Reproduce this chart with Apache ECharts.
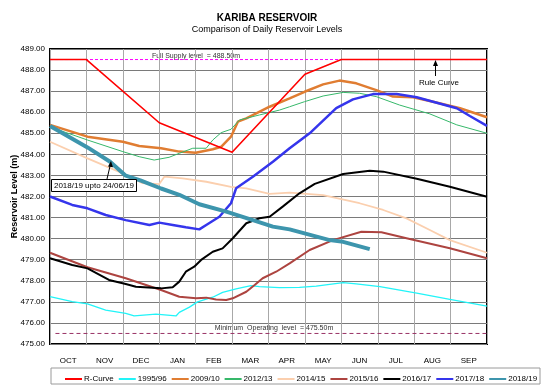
<!DOCTYPE html>
<html><head><meta charset="utf-8">
<script src="https://cdn.jsdelivr.net/npm/echarts@6/dist/echarts.min.js"></script>
<style>html,body{margin:0;padding:0;background:#fff}#c{width:550px;height:388px}</style>
</head><body><div id="c"></div>
<script>
// x values are in months from 1 October (0 = 1 Oct, 12 = 30 Sep)
const months = ['OCT','NOV','DEC','JAN','FEB','MAR','APR','MAY','JUN','JUL','AUG','SEP'];
const yTicks = [475,476,477,478,479,480,481,482,483,484,485,486,487,488,489];
const fullSupply = 488.5;
const minOperating = 475.5;

const rCurve = [[0,488.5],[1,488.5],[3,485.5],[5,484.1],[7,487.8],[8,488.5],[12,488.5]];
const y1995 = [[0,477.25],[0.61,477.01],[1.03,476.9],[1.53,476.61],[2.08,476.45],[2.31,476.33],[2.91,476.42],[3.46,476.33],[3.55,476.5],[3.83,476.75],[4.05,477.0],[4.47,477.22],[4.74,477.45],[5.11,477.62],[5.52,477.77],[5.75,477.72],[6.3,477.68],[6.85,477.69],[7.31,477.75],[8.05,477.91],[8.41,477.85],[9.06,477.72],[10.07,477.41],[10.98,477.12],[12,476.8]];
const y2009 = [[0,485.4],[1.03,484.84],[2.0,484.6],[2.45,484.4],[3.05,484.29],[3.55,484.13],[4.0,484.08],[4.47,484.24],[4.7,484.36],[4.97,484.84],[5.16,485.55],[5.39,485.71],[6.03,486.26],[6.58,486.66],[6.99,486.97],[7.5,487.32],[7.95,487.5],[8.41,487.37],[8.96,487.05],[9.42,486.74],[9.97,486.71],[10.52,486.5],[11.26,486.19],[12,485.76]];
const y2012 = [[0,485.3],[1.03,484.68],[2.0,484.13],[2.45,483.89],[2.86,483.73],[3.27,483.86],[3.55,484.05],[3.92,484.29],[4.29,484.29],[4.47,484.68],[4.7,485.03],[4.97,485.19],[5.2,485.63],[5.75,485.87],[6.3,486.1],[6.58,486.26],[6.99,486.5],[7.5,486.77],[8.05,486.94],[8.5,486.9],[8.96,486.74],[9.6,486.34],[10.43,485.92],[11.17,485.4],[12,485.0]];
const y2014 = [[0,484.6],[1.03,483.81],[2.0,483.1],[2.54,482.63],[3.0,482.59],[3.14,482.94],[3.64,482.86],[4.29,482.7],[4.97,482.46],[5.39,482.39],[6.03,482.12],[6.58,482.18],[7.5,482.07],[8.5,481.68],[9.15,481.36],[9.79,480.96],[10.43,480.41],[10.98,479.93],[12,479.33]];
const y2015 = [[0,479.33],[1.03,478.64],[2.08,478.12],[3.05,477.56],[3.55,477.24],[4.01,477.17],[4.29,477.2],[4.56,477.11],[4.84,477.09],[5.02,477.17],[5.39,477.48],[5.62,477.8],[5.84,478.12],[6.21,478.43],[6.58,478.83],[7.13,479.46],[7.77,479.93],[8.55,480.33],[9.1,480.3],[9.79,480.02],[10.98,479.54],[12,479.07]];
const y2016 = [[0,479.07],[0.61,478.75],[1.03,478.59],[1.62,478.04],[2.08,477.85],[2.36,477.72],[3.05,477.64],[3.37,477.69],[3.55,477.96],[3.73,478.43],[3.96,478.67],[4.15,478.99],[4.47,479.38],[4.74,479.54],[5.02,480.02],[5.39,480.73],[5.75,480.97],[6.03,481.04],[6.39,481.52],[6.85,482.15],[7.27,482.6],[8.05,483.07],[8.78,483.22],[9.15,483.18],[10.07,482.84],[10.98,482.46],[12,481.99]];
const y2017 = [[0,482.0],[0.61,481.6],[1.03,481.44],[1.53,481.12],[2.08,480.88],[2.73,480.65],[3.0,480.76],[3.37,480.65],[3.73,480.54],[4.1,480.44],[4.29,480.65],[4.65,481.04],[4.97,481.68],[5.11,482.39],[5.57,482.94],[6.12,483.65],[6.58,484.29],[7.13,485.0],[7.86,486.19],[8.32,486.61],[8.87,486.86],[9.52,486.86],[10.07,486.71],[10.62,486.45],[11.17,486.19],[11.53,485.82],[12,485.35]];
const y2018 = [[0,485.35],[1.03,484.33],[1.65,483.65],[2.08,482.99],[2.5,482.75],[3.05,482.38],[3.55,482.08],[4.1,481.63],[4.84,481.28],[5.57,480.88],[6.12,480.57],[6.58,480.44],[6.99,480.25],[7.68,479.93],[8.05,479.85],[8.78,479.5]];

const FONT = 'Liberation Sans, Arial, sans-serif';
function line(name, data, color, width, z){
  return {name, type:'line', data, symbol:'none', z: z||2, animation:false,
    lineStyle:{color, width}, itemStyle:{color}};
}
const chart = echarts.init(document.getElementById('c'), null, {renderer:'canvas'});
chart.setOption({
  animation:false,
  textStyle:{fontFamily:FONT},
  title:[
    {text:'KARIBA RESERVOIR', left:262, top:8, textAlign:'center', textStyle:{fontSize:10, fontWeight:'bold', color:'#000', fontFamily:FONT}},
    {text:'Comparison of Daily Reservoir Levels', left:262, top:20, textAlign:'center', textStyle:{fontSize:9, fontWeight:'normal', color:'#000', fontFamily:FONT}}
  ],
  grid:{left:50, right:63, top:49, bottom:44, show:true, borderColor:'#000', borderWidth:2, backgroundColor:'transparent', outerBoundsMode:'none', containLabel:false},
  xAxis:[
    {type:'value', min:0, max:12, interval:1, axisLabel:{show:false}, axisTick:{show:false}, axisLine:{show:false},
     splitLine:{show:true, lineStyle:{color:'#a8a8a8', width:1}}},
    {type:'category', data:months, boundaryGap:true, position:'bottom', axisLine:{show:false}, axisTick:{show:false}, splitLine:{show:false},
     axisLabel:{fontSize:8, color:'#000', margin:13, fontFamily:FONT}}
  ],
  yAxis:{type:'value', min:475, max:489, interval:1,
    name:'Reservoir Level (m)', nameLocation:'middle', nameGap:31, nameRotate:90, nameMoveOverlap:false,
    nameTextStyle:{fontSize:9, fontWeight:'bold', color:'#000', fontFamily:FONT},
    axisLabel:{fontSize:8, color:'#000', margin:5, formatter:v=>v.toFixed(2), fontFamily:FONT},
    axisTick:{show:false}, axisLine:{show:false},
    splitLine:{show:true, lineStyle:{color:'#7a7a7a', width:1}}},
  legend:{data:['R-Curve','1995/96','2009/10','2012/13','2014/15','2015/16','2016/17','2017/18','2018/19'],
    left:60, top:370, icon:'rect', itemWidth:17, itemHeight:2, itemGap:5,
    textStyle:{fontSize:8, color:'#000', fontFamily:FONT, padding:[0,0,0,-3]}},
  graphic:[
    {type:'rect', shape:{x:51, y:368, width:489, height:16}, style:{fill:'none', stroke:'#9a9a9a', lineWidth:1}, z:-1},
    {type:'text', x:196, y:56, style:{text:'Full Supply level  = 488.50m', fontSize:7, fill:'#333', textAlign:'center', textVerticalAlign:'middle', fontFamily:FONT}},
    {type:'text', x:274, y:328, style:{text:'Minimum  Operating  level  = 475.50m', fontSize:7, fill:'#333', textAlign:'center', textVerticalAlign:'middle', fontFamily:FONT}},
    {type:'text', x:439, y:83, style:{text:'Rule Curve', fontSize:8, fill:'#000', textAlign:'center', textVerticalAlign:'middle', fontFamily:FONT}},
    {type:'line', shape:{x1:435.5, y1:76, x2:435.5, y2:63}, style:{stroke:'#000', lineWidth:1}, z:20},
    {type:'polygon', shape:{points:[[435.5,60],[433,66],[438,66]]}, style:{fill:'#000'}, z:20},
    {type:'rect', shape:{x:51.5, y:179.5, width:85, height:12}, style:{fill:'#fff', stroke:'#000', lineWidth:1}, z:20},
    {type:'text', x:94, y:186, style:{text:'2018/19 upto 24/06/19', fontSize:8, fill:'#000', textAlign:'center', textVerticalAlign:'middle', fontFamily:FONT}, z:21},
    {type:'line', shape:{x1:107, y1:179, x2:110.5, y2:164}, style:{stroke:'#000', lineWidth:1}, z:20},
    {type:'polygon', shape:{points:[[111,161],[108,166.5],[113,167.2]]}, style:{fill:'#000'}, z:20}
  ],
  series:[
    {name:'FSL', type:'line', data:[[0,fullSupply],[12,fullSupply]], symbol:'none', z:1, lineStyle:{color:'#ff00ff', width:1, type:[3,2]}, silent:true},
    {name:'MOL', type:'line', data:[[0.15,minOperating],[12,minOperating]], symbol:'none', z:1, lineStyle:{color:'#993366', width:1, type:[4,3]}, silent:true},
    line('1995/96', y1995, '#22f4f8', 1.3),
    line('2009/10', y2009, '#e07d32', 2.5),
    line('2012/13', y2012, '#36b86a', 1),
    line('2014/15', y2014, '#fbcfae', 1.8),
    line('2015/16', y2015, '#ad4440', 2),
    line('2016/17', y2016, '#000000', 2),
    line('2017/18', y2017, '#3535ec', 2.5),
    line('R-Curve', rCurve, '#ff0000', 1.6, 3),
    line('2018/19', y2018, '#3d95ad', 4, 4)
  ]
});
</script></body></html>
